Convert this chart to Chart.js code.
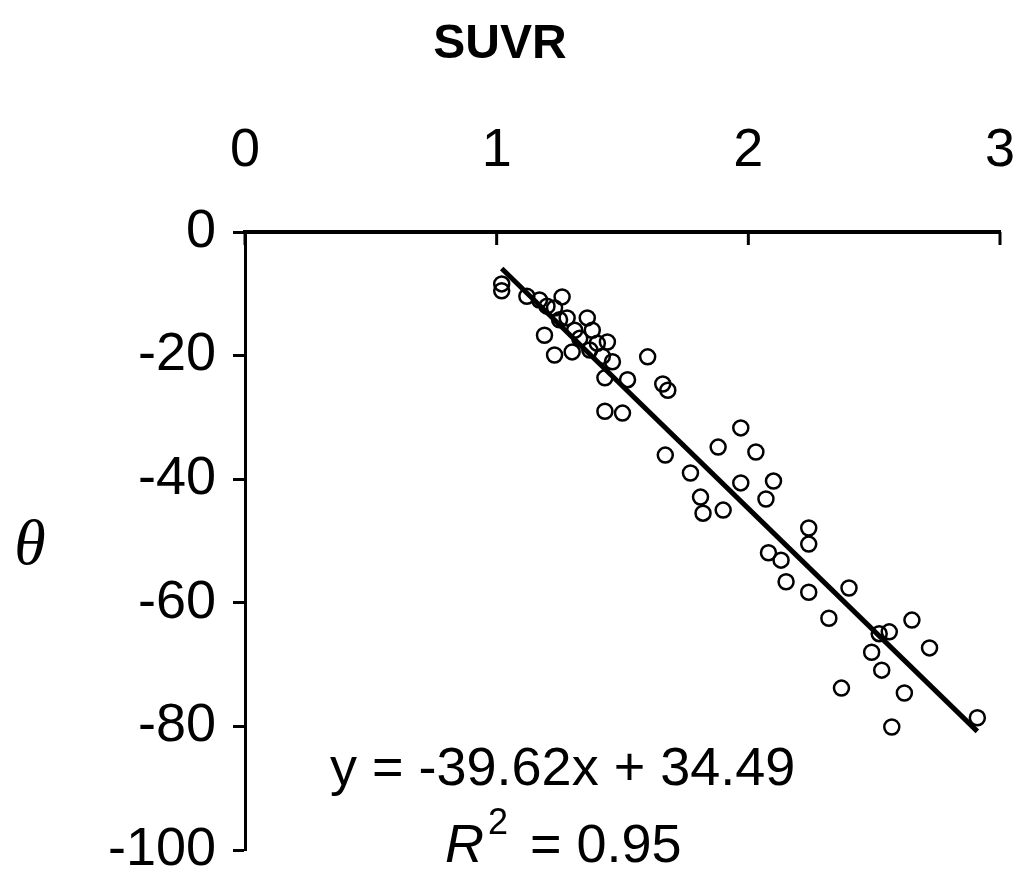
<!DOCTYPE html>
<html lang="en">
<head>
    <meta charset="UTF-8">
    <title>SUVR vs theta</title>
    <script src="https://cdn.jsdelivr.net/npm/chart.js"></script>
    <style>
        body {
            margin: 0;
            background-color: #ffffff;
        }

        .chart-container {
            width: 1018px;
            height: 879px;
        }
    </style>
</head>
<body>
    <div class="chart-container">
        <canvas id="suvrChart"></canvas>
    </div>

    <script>
        // values
        const suvr = [
            1.02, 1.02, 1.12, 1.17, 1.26, 1.23, 1.25, 1.19, 1.23, 1.30,
            1.31, 1.36, 1.38, 1.40, 1.42, 1.44, 1.43, 1.52, 1.43, 1.50,
            1.60, 1.66, 1.68, 1.67, 1.77, 1.88, 1.97, 2.03, 1.97, 2.10,
            2.07, 1.81, 1.82, 1.90, 2.24, 2.24, 2.08, 2.13, 2.15, 2.24,
            2.40, 2.32, 2.56, 2.65, 2.49, 2.53, 2.72, 2.37, 2.62, 2.57,
            2.91, 2.52, 1.20, 1.28, 1.33, 1.37, 1.46
        ];
        const theta = [
            -8.4, -9.5, -10.4, -11.0, -10.5, -12.3, -14.2, -16.7, -19.9, -19.4,
            -15.9, -13.9, -15.9, -18.0, -20.1, -17.8, -23.6, -23.9, -29.0, -29.3,
            -20.2, -24.6, -25.6, -36.1, -39.0, -34.8, -31.7, -35.6, -40.6, -40.3,
            -43.2, -42.9, -45.5, -45.0, -47.9, -50.5, -51.9, -53.1, -56.6, -58.3,
            -57.6, -62.5, -64.7, -62.8, -68.0, -70.9, -67.3, -73.8, -74.6, -80.1,
            -78.6, -65.0, -12.0, -13.9, -17.2, -19.1, -21.0
        ];
        // trend line end points
        const trendX = [1.02, 2.91];
        const trendY = [-5.9, -80.8];

        const xTicks = [0, 1, 2, 3];
        const yTicks = [0, -20, -40, -60, -80, -100];

        const equationText = 'y = -39.62x + 34.49';
        const r2Text = '= 0.95';

        const FONT = "'Liberation Sans', Arial, sans-serif";

        // ticks on the top axis point down into the plot, plus the text notes
        const annotations = {
            id: 'annotations',
            afterDraw(chart) {
                const ctx = chart.ctx;
                const x = chart.scales.x;
                const top = chart.chartArea.top;
                ctx.save();
                ctx.strokeStyle = '#000';
                ctx.lineWidth = 3;
                xTicks.forEach(v => {
                    const px = x.getPixelForValue(v);
                    ctx.beginPath();
                    ctx.moveTo(px, top);
                    ctx.lineTo(px, top + 13);
                    ctx.stroke();
                });

                ctx.fillStyle = '#000';
                ctx.textBaseline = 'alphabetic';
                ctx.textAlign = 'left';
                ctx.font = '54px ' + FONT;
                ctx.fillText(equationText, 330, 785);

                ctx.font = 'italic 54px ' + FONT;
                ctx.fillText('R', 445, 862);
                ctx.font = '36px ' + FONT;
                ctx.fillText('2', 488, 834);
                ctx.font = '54px ' + FONT;
                ctx.fillText(r2Text, 530, 862);

                ctx.font = "italic 64px 'Liberation Serif', 'Times New Roman', serif";
                ctx.textAlign = 'center';
                ctx.textBaseline = 'middle';
                ctx.fillText('\u03B8', 30, 547);
                ctx.restore();
            }
        };

        const ctx = document.getElementById('suvrChart').getContext('2d');
        new Chart(ctx, {
            data: {
                datasets: [
                    {
                        type: 'line',
                        data: trendX.map((x, i) => ({ x: x, y: trendY[i] })),
                        borderColor: '#000',
                        borderWidth: 5,
                        pointRadius: 0,
                        fill: false,
                    },
                    {
                        type: 'scatter',
                        data: suvr.map((x, i) => ({ x: x, y: theta[i] })),
                        pointStyle: 'circle',
                        pointRadius: 7.5,
                        borderWidth: 2.5,
                        borderColor: '#000',
                        backgroundColor: 'rgba(0,0,0,0)',
                    },
                ],
            },
            options: {
                responsive: true,
                maintainAspectRatio: false,
                animation: false,
                layout: {
                    padding: { left: 0, right: 18, top: 0, bottom: 29 },
                },
                plugins: {
                    legend: { display: false },
                    tooltip: { enabled: false },
                    title: {
                        display: true,
                        text: 'SUVR',
                        color: '#000',
                        font: { family: FONT, size: 48, weight: 'bold', lineHeight: 1.2 },
                        padding: { top: 16, bottom: 0 },
                    },
                },
                scales: {
                    x: {
                        type: 'linear',
                        position: 'top',
                        min: 0,
                        max: 3,
                        afterBuildTicks(scale) {
                            scale.ticks = xTicks.map(v => ({ value: v }));
                        },
                        afterFit(scale) {
                            scale.height = 232 - 16 - 48 * 1.2;
                            scale.paddingLeft = 0;
                            scale.paddingRight = 0;
                        },
                        ticks: {
                            color: '#000',
                            padding: 48,
                            maxRotation: 0,
                            font: { family: FONT, size: 54 },
                        },
                        grid: {
                            drawOnChartArea: false,
                            drawTicks: false,
                        },
                        border: { display: true, color: '#000', width: 4 },
                    },
                    y: {
                        type: 'linear',
                        min: -100,
                        max: 0,
                        afterBuildTicks(scale) {
                            scale.ticks = yTicks.map(v => ({ value: v }));
                        },
                        afterFit(scale) {
                            scale.width = 245;
                            scale.paddingTop = 0;
                            scale.paddingBottom = 0;
                        },
                        ticks: {
                            color: '#000',
                            padding: 17,
                            font: { family: FONT, size: 54 },
                        },
                        grid: {
                            drawOnChartArea: false,
                            drawTicks: true,
                            tickLength: 12,
                            tickWidth: 3,
                            tickColor: '#000',
                        },
                        border: { display: true, color: '#000', width: 3 },
                    },
                },
            },
            plugins: [annotations],
        });
    </script>
</body>
</html>
